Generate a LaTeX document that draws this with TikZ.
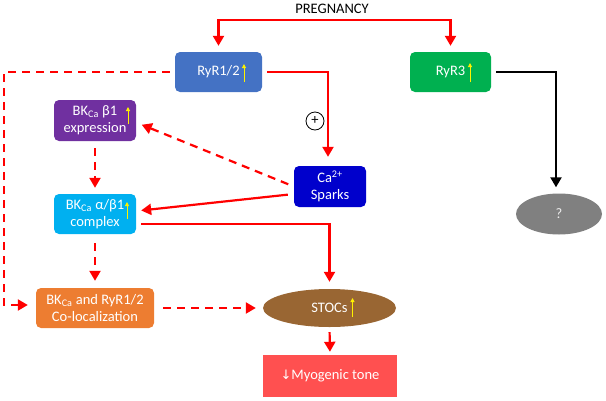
\documentclass[tikz,border=0pt]{standalone}
\usepackage{fontspec}
\setmainfont{Carlito}
\newfontfamily\symfont{DejaVu Sans}
\usetikzlibrary{arrows.meta,shapes.geometric}

\definecolor{ryrblue}{RGB}{68,114,196}
\definecolor{ryrgreen}{RGB}{0,176,80}
\definecolor{betapurple}{RGB}{112,48,160}
\definecolor{sparkblue}{RGB}{0,0,204}
\definecolor{cplxcyan}{RGB}{0,176,240}
\definecolor{colocorange}{RGB}{237,125,49}
\definecolor{stocbrown}{RGB}{153,102,51}
\definecolor{tonered}{RGB}{255,80,80}
\definecolor{qgray}{RGB}{128,128,128}

\tikzset{
	box/.style={rounded corners=5pt, inner sep=0pt, text=white, align=center},
	red arrow/.style={draw=red, line width=2.2pt, -{Triangle[width=11pt,length=10pt]}},
	red dash/.style={red arrow, dash pattern=on 8pt off 6pt},
	black arrow/.style={draw=black, line width=2.2pt, -{Triangle[width=11pt,length=10pt]}},
	yarrow/.style={draw=yellow, line width=1pt, -{Triangle[width=4pt,length=4pt]}},
}

\begin{document}
\begin{tikzpicture}[x=1pt,y=-1pt,font=\fontsize{14.5}{17}\selectfont]
	\useasboundingbox (0,0) rectangle (606,400);
%
	\node (preg) at (332,9) {PREGNANCY};
	\coordinate (split) at (332,20);
%
	\node[box, fill=ryrblue, minimum width=87pt, minimum height=40pt] (ryr12) at (218.5,72) {RyR1/2};
	\node[box, fill=ryrgreen, minimum width=81pt, minimum height=40pt] (ryr3) at (450.5,72) {RyR3};
	\node[box, fill=betapurple, minimum width=82pt, minimum height=41pt] (beta) at (95,120.5) {BK\textsubscript{Ca} β1\\expression};
	\node[box, fill=sparkblue, minimum width=72pt, minimum height=41pt] (ca) at (330,186.5) {Ca\textsuperscript{2+}\\Sparks};
	\node[box, fill=cplxcyan, minimum width=82pt, minimum height=40pt] (cplx) at (95,214) {BK\textsubscript{Ca} α/β1\\complex};
	\node[box, fill=colocorange, minimum width=118pt, minimum height=40pt] (coloc) at (95,308) {BK\textsubscript{Ca} and RyR1/2\\Co-localization};
	\node[ellipse, fill=stocbrown, text=white, inner sep=0pt, minimum width=133pt, minimum height=38pt] (stoc) at (329.5,308) {STOCs};
	\node[fill=tonered, text=white, inner sep=0pt, minimum width=134pt, minimum height=42pt] (tone) at (330,376) {{\symfont\fontsize{13}{15}\selectfont ↓}Myogenic tone};
	\node[ellipse, fill=qgray, text=white!85!gray, inner sep=0pt, minimum width=86pt, minimum height=41pt] (q) at (559,214) {?};
	\node[circle, draw, line width=0.8pt, inner sep=0pt, minimum size=18pt] (plus) at (315,121) {+};
%
	\draw[yarrow] ([shift={(25.5,10)}]ryr12.center) -- ([shift={(25.5,-8)}]ryr12.center);
	\draw[yarrow] ([shift={(19.5,10)}]ryr3.center) -- ([shift={(19.5,-9)}]ryr3.center);
	\draw[yarrow] ([shift={(33,3.5)}]beta.center) -- ([shift={(33,-13.5)}]beta.center);
	\draw[yarrow] ([shift={(32,5)}]cplx.center) -- ([shift={(32,-12)}]cplx.center);
	\draw[yarrow] ([shift={(23,9)}]stoc.center) -- ([shift={(23,-10)}]stoc.center);
%
	\draw[red arrow, shorten >=6pt] (split) -| (ryr12.north);
	\draw[red arrow, shorten >=6pt] (split) -| (ryr3.north);
	\draw[red arrow, shorten <=5pt, shorten >=9pt] (ryr12.east) -| ([shift={(-2,0)}]ca.north);
	\draw[black arrow, shorten <=5pt, shorten >=6pt] (ryr3.east) -| ([shift={(-3,0)}]q.north);
	\draw[red dash, shorten <=5pt, shorten >=8pt] (ryr12.west) -| (4,305) -- ([shift={(0,-3)}]coloc.west);
	\draw[red dash, shorten <=7pt, shorten >=6pt] (beta.south) -- (cplx.north);
	\draw[red dash, shorten <=9pt, shorten >=7pt] (cplx.south) -- (coloc.north);
	\draw[red dash, shorten <=6pt, shorten >=6pt] (ca.west) -- ([shift={(0,2)}]beta.east);
	\draw[red arrow, shorten <=6pt, shorten >=5pt] ([shift={(0,7.5)}]ca.west) -- ([shift={(0,-3)}]cplx.east);
	\draw[red arrow, shorten <=5pt, shorten >=7pt] ([shift={(0,10)}]cplx.east) -| (stoc.north);
	\draw[red dash, shorten <=9pt, shorten >=7pt] (coloc.east) -- (stoc.west);
	\draw[red arrow, shorten <=5pt, shorten >=3pt] (stoc.south) -- (tone.north);
\end{tikzpicture}
\end{document}
